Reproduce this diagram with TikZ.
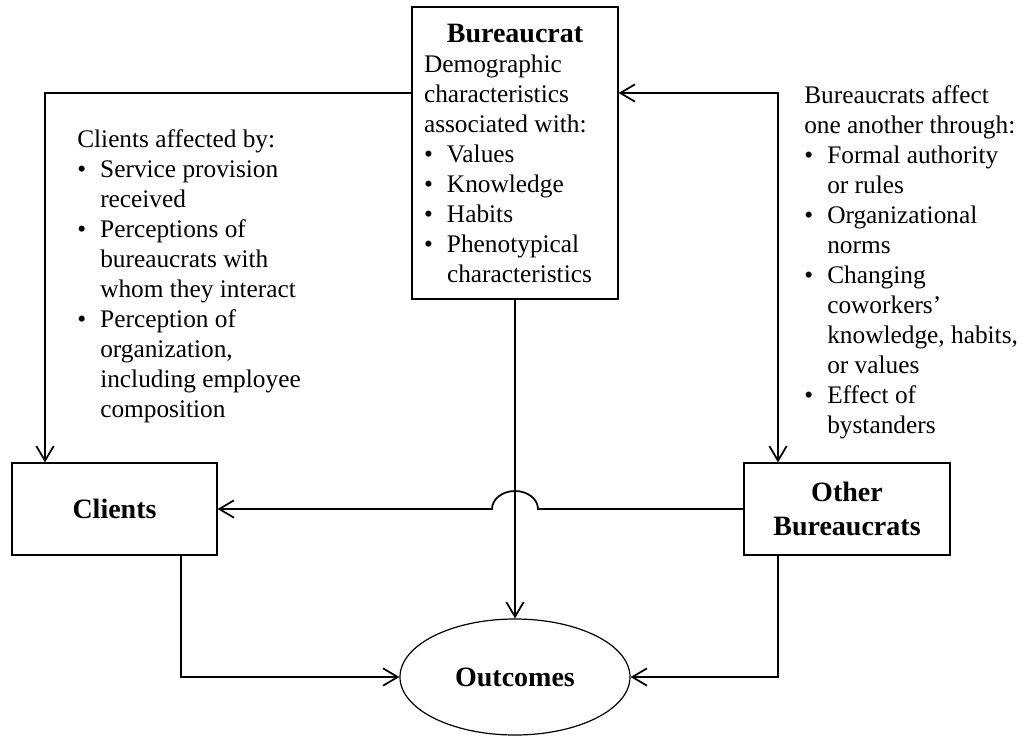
\documentclass[tikz,border=0pt]{standalone}
\usepackage{fontspec}
\setmainfont{Liberation Serif}
\usetikzlibrary{arrows.meta,shapes.geometric}
\tikzset{>={Straight Barb[length=11pt,width=13pt]}}
\tikzset{box/.style={draw,line width=0.9pt,inner sep=0pt}}
\tikzset{link/.style={line width=1.3pt}}
\newcommand{\hd}{\fontsize{21}{26}\selectfont\bfseries}
\newcommand{\tx}{\fontsize{19}{22.5}\selectfont}
\newcommand{\bpt}{\makebox[17.25pt][l]{\textbullet}}
\newcommand{\bgap}{\hspace*{17.25pt}}

\begin{document}
\begin{tikzpicture}[x=0.75pt,y=-0.75pt]
	\useasboundingbox (0,0) rectangle (1023,736);

	\node[box,minimum width=154.5pt,minimum height=219pt] (bur) at (515,153)
		{\begin{minipage}{136.5pt}\tx
		{\centering\hd Bureaucrat\par}
		\raggedright Demographic\\
		characteristics\\
		associated with:\\
		\bpt Values\\
		\bpt Knowledge\\
		\bpt Habits\\
		\bpt Phenotypical\\
		\bgap characteristics
		\end{minipage}};
	\node[box,minimum width=153.75pt,minimum height=69pt,font=\hd] (cli) at (114.5,509) {Clients};
	\node[box,minimum width=154.5pt,minimum height=69pt,font=\hd,align=center] (oth) at (847,509) {Other\\Bureaucrats};
	\node[ellipse,draw,line width=0.9pt,minimum width=172.5pt,minimum height=87pt,font=\hd] (out) at (515,677) {Outcomes};

	\node[anchor=base west,inner sep=0pt] (clinote) at (77,147)
		{\tx\begin{tabular}[t]{@{}l@{}}
		Clients affected by:\\
		\bpt Service provision\\
		\bgap received\\
		\bpt Perceptions of\\
		\bgap bureaucrats with\\
		\bgap whom they interact\\
		\bpt Perception of\\
		\bgap organization,\\
		\bgap including employee\\
		\bgap composition
		\end{tabular}};
	\node[anchor=base west,inner sep=0pt] (burnote) at (804,103)
		{\tx\begin{tabular}[t]{@{}l@{}}
		Bureaucrats affect\\
		one another through:\\
		\bpt Formal authority\\
		\bgap or rules\\
		\bpt Organizational\\
		\bgap norms\\
		\bpt Changing\\
		\bgap coworkers’\\
		\bgap knowledge, habits,\\
		\bgap or values\\
		\bpt Effect of\\
		\bgap bystanders
		\end{tabular}};

	\coordinate (lc) at (45,93);
	\coordinate (rc) at (778,93);
	\coordinate (cb) at (181,677);
	\coordinate (ob) at (778,677);

	\draw[link,->] (bur.west |- lc) -- (lc) -- (lc |- cli.north);
	\draw[link,<->] (bur.east |- rc) -- (rc) -- (rc |- oth.north);
	\draw[link,->] (bur) -- (out);
	\draw[link,->] (oth.west) -- ([xshift=17.25pt]oth.west -| bur.south)
		arc[start angle=0,end angle=180,x radius=17.25pt,y radius=13.5pt] -- (cli.east);
	\draw[link,->] (cli.south -| cb) -- (cb) -- (out.west);
	\draw[link,->] (oth.south -| ob) -- (ob) -- (out.east);

\end{tikzpicture}
\end{document}
